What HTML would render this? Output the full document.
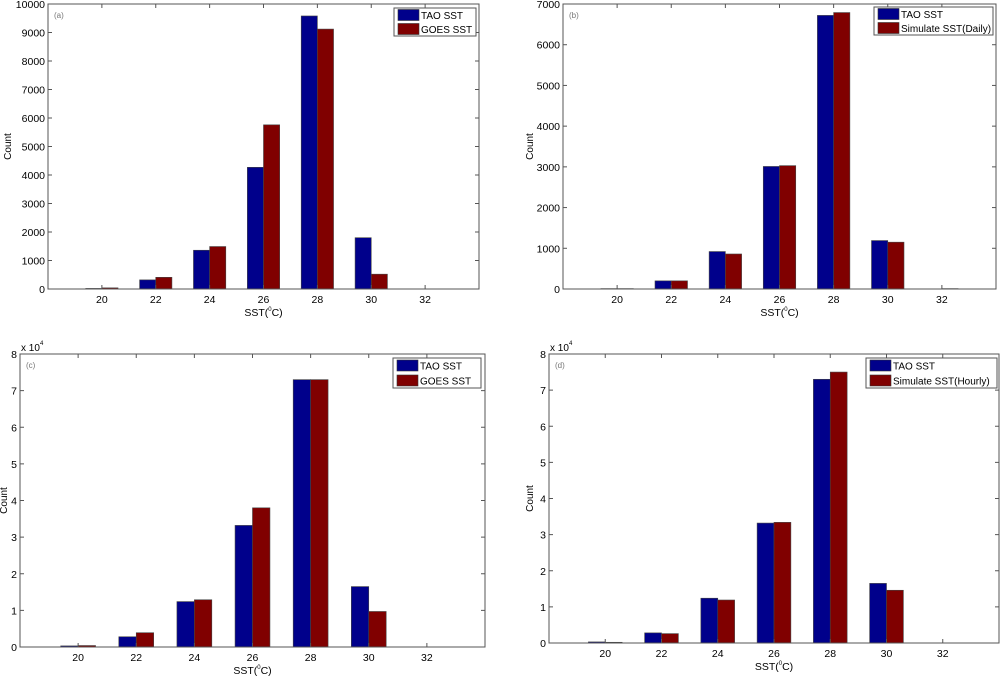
<!DOCTYPE html>
<html><head><meta charset="utf-8"><style>
html,body{margin:0;padding:0;background:#fff;}
svg{display:block;font-family:"Liberation Sans",Arial,sans-serif;}
</style></head><body>
<svg id="fig" width="1000" height="677" viewBox="0 0 1000 677" xmlns="http://www.w3.org/2000/svg"></svg>
<script>
const categories = [20, 22, 24, 26, 28, 30, 32];
const taoA = [20, 320, 1360, 4270, 9580, 1800, 0];
const goesA = [40, 410, 1490, 5760, 9120, 520, 0];
const taoB = [10, 200, 920, 3010, 6720, 1190, 0];
const simDailyB = [10, 200, 860, 3030, 6790, 1150, 10];
const taoC = [300, 2800, 12400, 33200, 73000, 16500, 0];
const goesC = [400, 3900, 12900, 38000, 73000, 9700, 0];
const taoD = [300, 2800, 12400, 33200, 73000, 16500, 0];
const simHourlyD = [200, 2600, 11900, 33400, 75000, 14600, 0];
const yTicksA = [0,1000,2000,3000,4000,5000,6000,7000,8000,9000,10000];
const yTicksB = [0,1000,2000,3000,4000,5000,6000,7000];
const yTicksCD = [0,10000,20000,30000,40000,50000,60000,70000,80000];

const NS = "http://www.w3.org/2000/svg";
const svg = document.getElementById('fig');
function mk(tag, attrs, parent, text){
  const e = document.createElementNS(NS, tag);
  for (const k in attrs) e.setAttribute(k, attrs[k]);
  if (text !== undefined) e.textContent = text;
  (parent||svg).appendChild(e);
  return e;
}
function panel(p){
  const g = mk('g', {});
  
  
  const xs = v => p.x0 + (v - 18) / 16 * (p.x1 - p.x0);
  const ys = v => p.y1 - v / p.ymax * (p.y1 - p.y0);
  const bw = (xs(20) - xs(18)) * 0.3;
  categories.forEach((c, i) => {
    const vals = [p.s1[i], p.s2[i]];
    vals.forEach((v, j) => {
      const x = xs(c) + (j === 0 ? -bw : 0);
      const r = mk('rect', {x: x, y: ys(v), width: bw, height: p.y1 - ys(v), fill: j === 0 ? '#00008b' : '#800000', stroke: '#444', 'stroke-width': 0.6}, g);
      
      
    });
  });
  const box = mk('rect', {x: p.x0, y: p.y0, width: p.x1 - p.x0, height: p.y1 - p.y0, fill: 'none', stroke: '#555', 'stroke-width': 1}, g);
  
  
  categories.forEach(c => {
    const x = xs(c);
    mk('line', {x1: x, x2: x, y1: p.y1, y2: p.y1 - 4, stroke: '#555'}, g);
    mk('line', {x1: x, x2: x, y1: p.y0, y2: p.y0 + 4, stroke: '#555'}, g);
    const t = mk('text', {x: x, y: p.y1 + 14, 'font-size': 10.5, 'text-anchor': 'middle', fill: '#000'}, g, c);
    
    
  });
  p.yt.forEach(v => {
    const y = ys(v);
    mk('line', {x1: p.x0, x2: p.x0 + 4, y1: y, y2: y, stroke: '#555'}, g);
    mk('line', {x1: p.x1, x2: p.x1 - 4, y1: y, y2: y, stroke: '#555'}, g);
    const t = mk('text', {x: p.x0 - 3, y: y + 4, 'font-size': 10.5, 'text-anchor': 'end', fill: '#000'}, g, p.sci ? v / 10000 : v);
    
    
  });
  if (p.sci){
    const t = mk('text', {x: p.x0 + 1, y: p.y0 - 3, 'font-size': 10, fill: '#000'}, g, 'x 10');
    
    
    mk('text', {x: p.x0 + 20, y: p.y0 - 9, 'font-size': 6, fill: '#000'}, g, '4');
  }
  const lab = mk('text', {x: p.x0 + 6, y: p.y0 + 14, 'font-size': 8, fill: '#777'}, g, '(' + p.id + ')');
  
  
  const xt = mk('text', {x: (p.x0 + p.x1) / 2, y: p.y1 + 27, 'font-size': 10.5, 'text-anchor': 'middle', fill: '#000'}, g);
  
  
  xt.innerHTML = 'SST(<tspan font-size="6" dy="-5">0</tspan><tspan dy="5">C)</tspan>';
  const yt = mk('text', {x: 0, y: 0, 'font-size': 10, 'text-anchor': 'middle', fill: '#000', transform: 'translate(' + p.ylx + ',' + (p.y0 + p.y1) / 2 + ') rotate(-90)'}, g, 'Count');
  
  
  const lg = mk('g', {}, g);
  
  
  mk('rect', {x: p.lx0, y: p.ly0, width: p.lx1 - p.lx0, height: p.ly1 - p.ly0, fill: '#fff', stroke: '#555'}, lg);
  const h = (p.ly1 - p.ly0) / 2;
  [[p.n1, '#00008b'], [p.n2, '#800000']].forEach((e, j) => {
    const cy = p.ly0 + h * j + h / 2;
    mk('rect', {x: p.lx0 + 4, y: cy - 5.5, width: 21, height: 11, fill: e[1], stroke: '#333', 'stroke-width': 0.6}, lg);
    const t = mk('text', {x: p.lx0 + 27, y: cy + 4, 'font-size': 10, fill: '#000'}, lg, e[0]);
    
    
  });
}
panel({id:'a', x0:48, x1:479, y0:4, y1:289, ymax:10000, yt:yTicksA, s1:taoA, s2:goesA, n1:'TAO SST', n2:'GOES SST', lx0:394, lx1:476, ly0:8, ly1:36, ylx:11, sci:false});
panel({id:'b', x0:563, x1:996, y0:4, y1:289, ymax:7000, yt:yTicksB, s1:taoB, s2:simDailyB, n1:'TAO SST', n2:'Simulate SST(Daily)', lx0:874, lx1:993, ly0:7, ly1:35, ylx:533, sci:false});
panel({id:'c', x0:20, x1:485, y0:354, y1:647, ymax:80000, yt:yTicksCD, s1:taoC, s2:goesC, n1:'TAO SST', n2:'GOES SST', lx0:393, lx1:481, ly0:358, ly1:388, ylx:7, sci:true});
panel({id:'d', x0:549, x1:999, y0:354, y1:643, ymax:80000, yt:yTicksCD, s1:taoD, s2:simHourlyD, n1:'TAO SST', n2:'Simulate SST(Hourly)', lx0:866, lx1:997, ly0:358, ly1:388, ylx:533, sci:true});
</script>
</body></html>
